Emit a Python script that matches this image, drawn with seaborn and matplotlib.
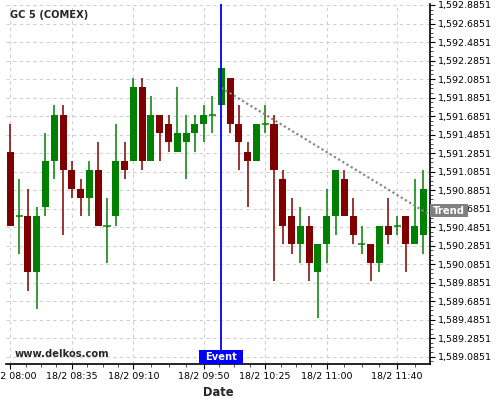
import numpy as np
import pandas as pd
import seaborn as sns
import matplotlib.pyplot as plt
from matplotlib.patches import Rectangle
from matplotlib.ticker import FixedLocator, FuncFormatter, MultipleLocator
import matplotlib.transforms as mtransforms

# 5 minute candles, GC 5 (COMEX), 18/2 08:00 .. 11:55
opens  = [1591.3, 1590.6, 1590.6, 1590.0, 1590.7, 1591.2, 1591.7, 1591.1, 1590.9, 1590.8,
          1591.1, 1590.5, 1590.6, 1591.2, 1591.2, 1592.0, 1591.2, 1591.7, 1591.6, 1591.3,
          1591.4, 1591.5, 1591.6, 1591.7, 1591.8, 1592.1, 1591.6, 1591.3, 1591.2, 1591.6,
          1591.6, 1591.0, 1590.6, 1590.3, 1590.5, 1590.0, 1590.3, 1590.6, 1591.0, 1590.6,
          1590.3, 1590.3, 1590.1, 1590.5, 1590.5, 1590.6, 1590.3, 1590.4]
highs  = [1591.6, 1591.0, 1590.9, 1590.7, 1591.5, 1591.8, 1591.8, 1591.2, 1591.0, 1591.2,
          1591.4, 1590.8, 1591.6, 1591.4, 1592.1, 1592.1, 1591.9, 1591.7, 1591.7, 1592.0,
          1591.7, 1591.7, 1591.8, 1591.9, 1592.2, 1592.1, 1591.8, 1591.4, 1591.6, 1591.8,
          1591.7, 1591.1, 1590.8, 1590.7, 1590.6, 1590.3, 1590.9, 1591.1, 1591.1, 1590.8,
          1590.5, 1590.3, 1590.5, 1590.8, 1590.6, 1590.6, 1591.0, 1591.1]
lows   = [1590.5, 1590.2, 1589.8, 1589.6, 1590.6, 1591.0, 1590.4, 1590.8, 1590.6, 1590.6,
          1590.5, 1590.1, 1590.5, 1591.0, 1591.2, 1591.1, 1591.2, 1591.2, 1591.3, 1591.3,
          1591.0, 1591.3, 1591.4, 1591.5, 1591.8, 1591.5, 1591.1, 1590.7, 1591.2, 1591.5,
          1589.9, 1590.3, 1590.2, 1590.1, 1589.9, 1589.5, 1590.1, 1590.4, 1590.6, 1590.3,
          1590.2, 1589.9, 1590.0, 1590.3, 1590.4, 1590.0, 1590.3, 1590.2]
closes = [1590.5, 1590.6, 1590.0, 1590.6, 1591.2, 1591.7, 1591.1, 1590.9, 1590.8, 1591.1,
          1590.5, 1590.5, 1591.2, 1591.1, 1592.0, 1591.2, 1591.7, 1591.5, 1591.4, 1591.5,
          1591.5, 1591.6, 1591.7, 1591.7, 1592.2, 1591.6, 1591.4, 1591.2, 1591.6, 1591.6,
          1591.1, 1590.5, 1590.3, 1590.5, 1590.1, 1590.3, 1590.6, 1591.1, 1590.6, 1590.4,
          1590.3, 1590.1, 1590.5, 1590.4, 1590.5, 1590.3, 1590.5, 1590.9]

tick_times = ["08:00", "08:35", "09:10", "09:50", "10:25", "11:00", "11:40"]
event_time = "10:00"
trend_times = ["10:00", "11:55"]
trend_prices = [1591.99, 1590.66]

y_base = 1589.0851
y_step = 0.2

times = pd.date_range("2020-02-18 08:00", periods=len(opens), freq="5min")
df = pd.DataFrame({"time": times, "open": opens, "high": highs, "low": lows, "close": closes})
df["i"] = np.arange(len(df))
df["up"] = df["close"] >= df["open"]
hhmm = df["time"].dt.strftime("%H:%M").tolist()

sns.set_theme(style="white")
plt.rcParams['font.family'] = ['DejaVu Sans']

fig = plt.figure(figsize=(5, 4), dpi=100)
ax = fig.add_axes([6 / 500, 36 / 400, 424 / 500, 360 / 400])

green, red = "#008000", "#800000"
cols = np.where(df["up"], green, red)

# wicks
ax.vlines(df["i"], df["low"], df["high"], colors=cols, linewidth=1.1, zorder=3)
# bodies
body_lo = np.minimum(df["open"], df["close"])
body_h = (df["close"] - df["open"]).abs()
ax.bar(df["i"], body_h, bottom=body_lo, width=0.8, color=cols, linewidth=0, zorder=4)
doji = df[body_h < 1e-9]
ax.hlines(doji["close"], doji["i"] - 0.4, doji["i"] + 0.4,
          colors=np.where(doji["up"], green, red), linewidth=1.1, zorder=4)

# limits
xmin, xmax = -0.49, 47.75
ax.set_xlim(xmin, xmax)
ax.set_ylim(1589.0061, 1592.8959)

# trend line (extended to the right edge)
t0 = hhmm.index(trend_times[0])
t1 = hhmm.index(trend_times[1])
slope = (trend_prices[1] - trend_prices[0]) / (t1 - t0)
tx = np.array([t0, xmax])
ty = trend_prices[0] + slope * (tx - t0)
sns.lineplot(x=tx, y=ty, ax=ax, color="#888888", linewidth=1.6,
             linestyle=(0, (1, 1.2)), zorder=5)

# event line
ev = hhmm.index(event_time)
ax.axvline(ev, color="#0000ff", linewidth=1.3, zorder=6)

# axes styling
for s in ["top", "left"]:
    ax.spines[s].set_visible(False)
for s in ["right", "bottom"]:
    ax.spines[s].set_color("black")
    ax.spines[s].set_linewidth(1.2)

ax.yaxis.tick_right()
ax.yaxis.set_major_locator(MultipleLocator(y_step, offset=y_base % y_step))
ax.yaxis.set_minor_locator(MultipleLocator(y_step / 4, offset=y_base % (y_step / 4)))
ax.yaxis.set_major_formatter(FuncFormatter(lambda v, p: f"{v:,.4f}"))

major_x = [hhmm.index(t) for t in tick_times]
minor_x = []
for a, b in zip(major_x[:-1], major_x[1:]):
    minor_x += list(np.linspace(a, b, 5)[1:-1])
minor_x += [major_x[-1] + (major_x[-1] - major_x[-2]) / 4 * k for k in (1, 2, 3)]
ax.xaxis.set_major_locator(FixedLocator(major_x))
ax.xaxis.set_minor_locator(FixedLocator(minor_x))
ax.set_xticklabels(["18/2 " + t for t in tick_times])

ax.tick_params(axis="both", which="major", direction="out", length=3.5, width=0.8,
               labelsize=6.8, colors="black", pad=2)
ax.tick_params(axis="both", which="minor", direction="out", length=2, width=0.6,
               colors="#333333")
ax.tick_params(axis="y", which="both", left=False, right=True, labelright=True, labelleft=False)
ax.tick_params(axis="x", which="both", bottom=True, top=False)

ax.grid(True, which="major", color="#cfcfcf", linestyle=(0, (3, 3)), linewidth=0.8)
ax.set_axisbelow(True)

ax.set_xlabel("Date", fontsize=8.3, fontweight="bold", labelpad=4)
ax.set_ylabel("")

# texts
ax.text(0.0094, 0.969, "GC 5 (COMEX)", transform=ax.transAxes, fontsize=7.1,
        fontweight="bold", ha="left", va="center", zorder=7)
ax.text(0.021, 0.028, "www.delkos.com", transform=ax.transAxes, fontsize=7.2,
        fontweight="bold", ha="left", va="center", zorder=7)

# event tag
ppx = (xmax - xmin) / 424.0
blend = mtransforms.blended_transform_factory(ax.transData, ax.transAxes)
ax.add_patch(Rectangle((ev - 22 * ppx, 0), 44 * ppx, 14 / 360, transform=blend,
                       facecolor="#0000ff", edgecolor="none", zorder=8, clip_on=False))
ax.text(ev, 7 / 360, "Event", transform=blend, color="white", fontsize=7.2,
        fontweight="bold", ha="center", va="center", zorder=9)

# trend tag
tag_y = trend_prices[1]
ypx = (1592.8959 - 1589.0061) / 360.0
blend2 = mtransforms.blended_transform_factory(ax.transAxes, ax.transData)
ax.add_patch(Rectangle((1.0, tag_y - 6.5 * ypx), 38 / 424, 13 * ypx, transform=blend2,
                       facecolor="#808080", edgecolor="none", zorder=8, clip_on=False))
ax.text(1.0 + 19 / 424, tag_y, "Trend", transform=blend2, color="white", fontsize=7.2,
        fontweight="bold", ha="center", va="center", zorder=9, clip_on=False)

plt.savefig("out.png", dpi=100)
